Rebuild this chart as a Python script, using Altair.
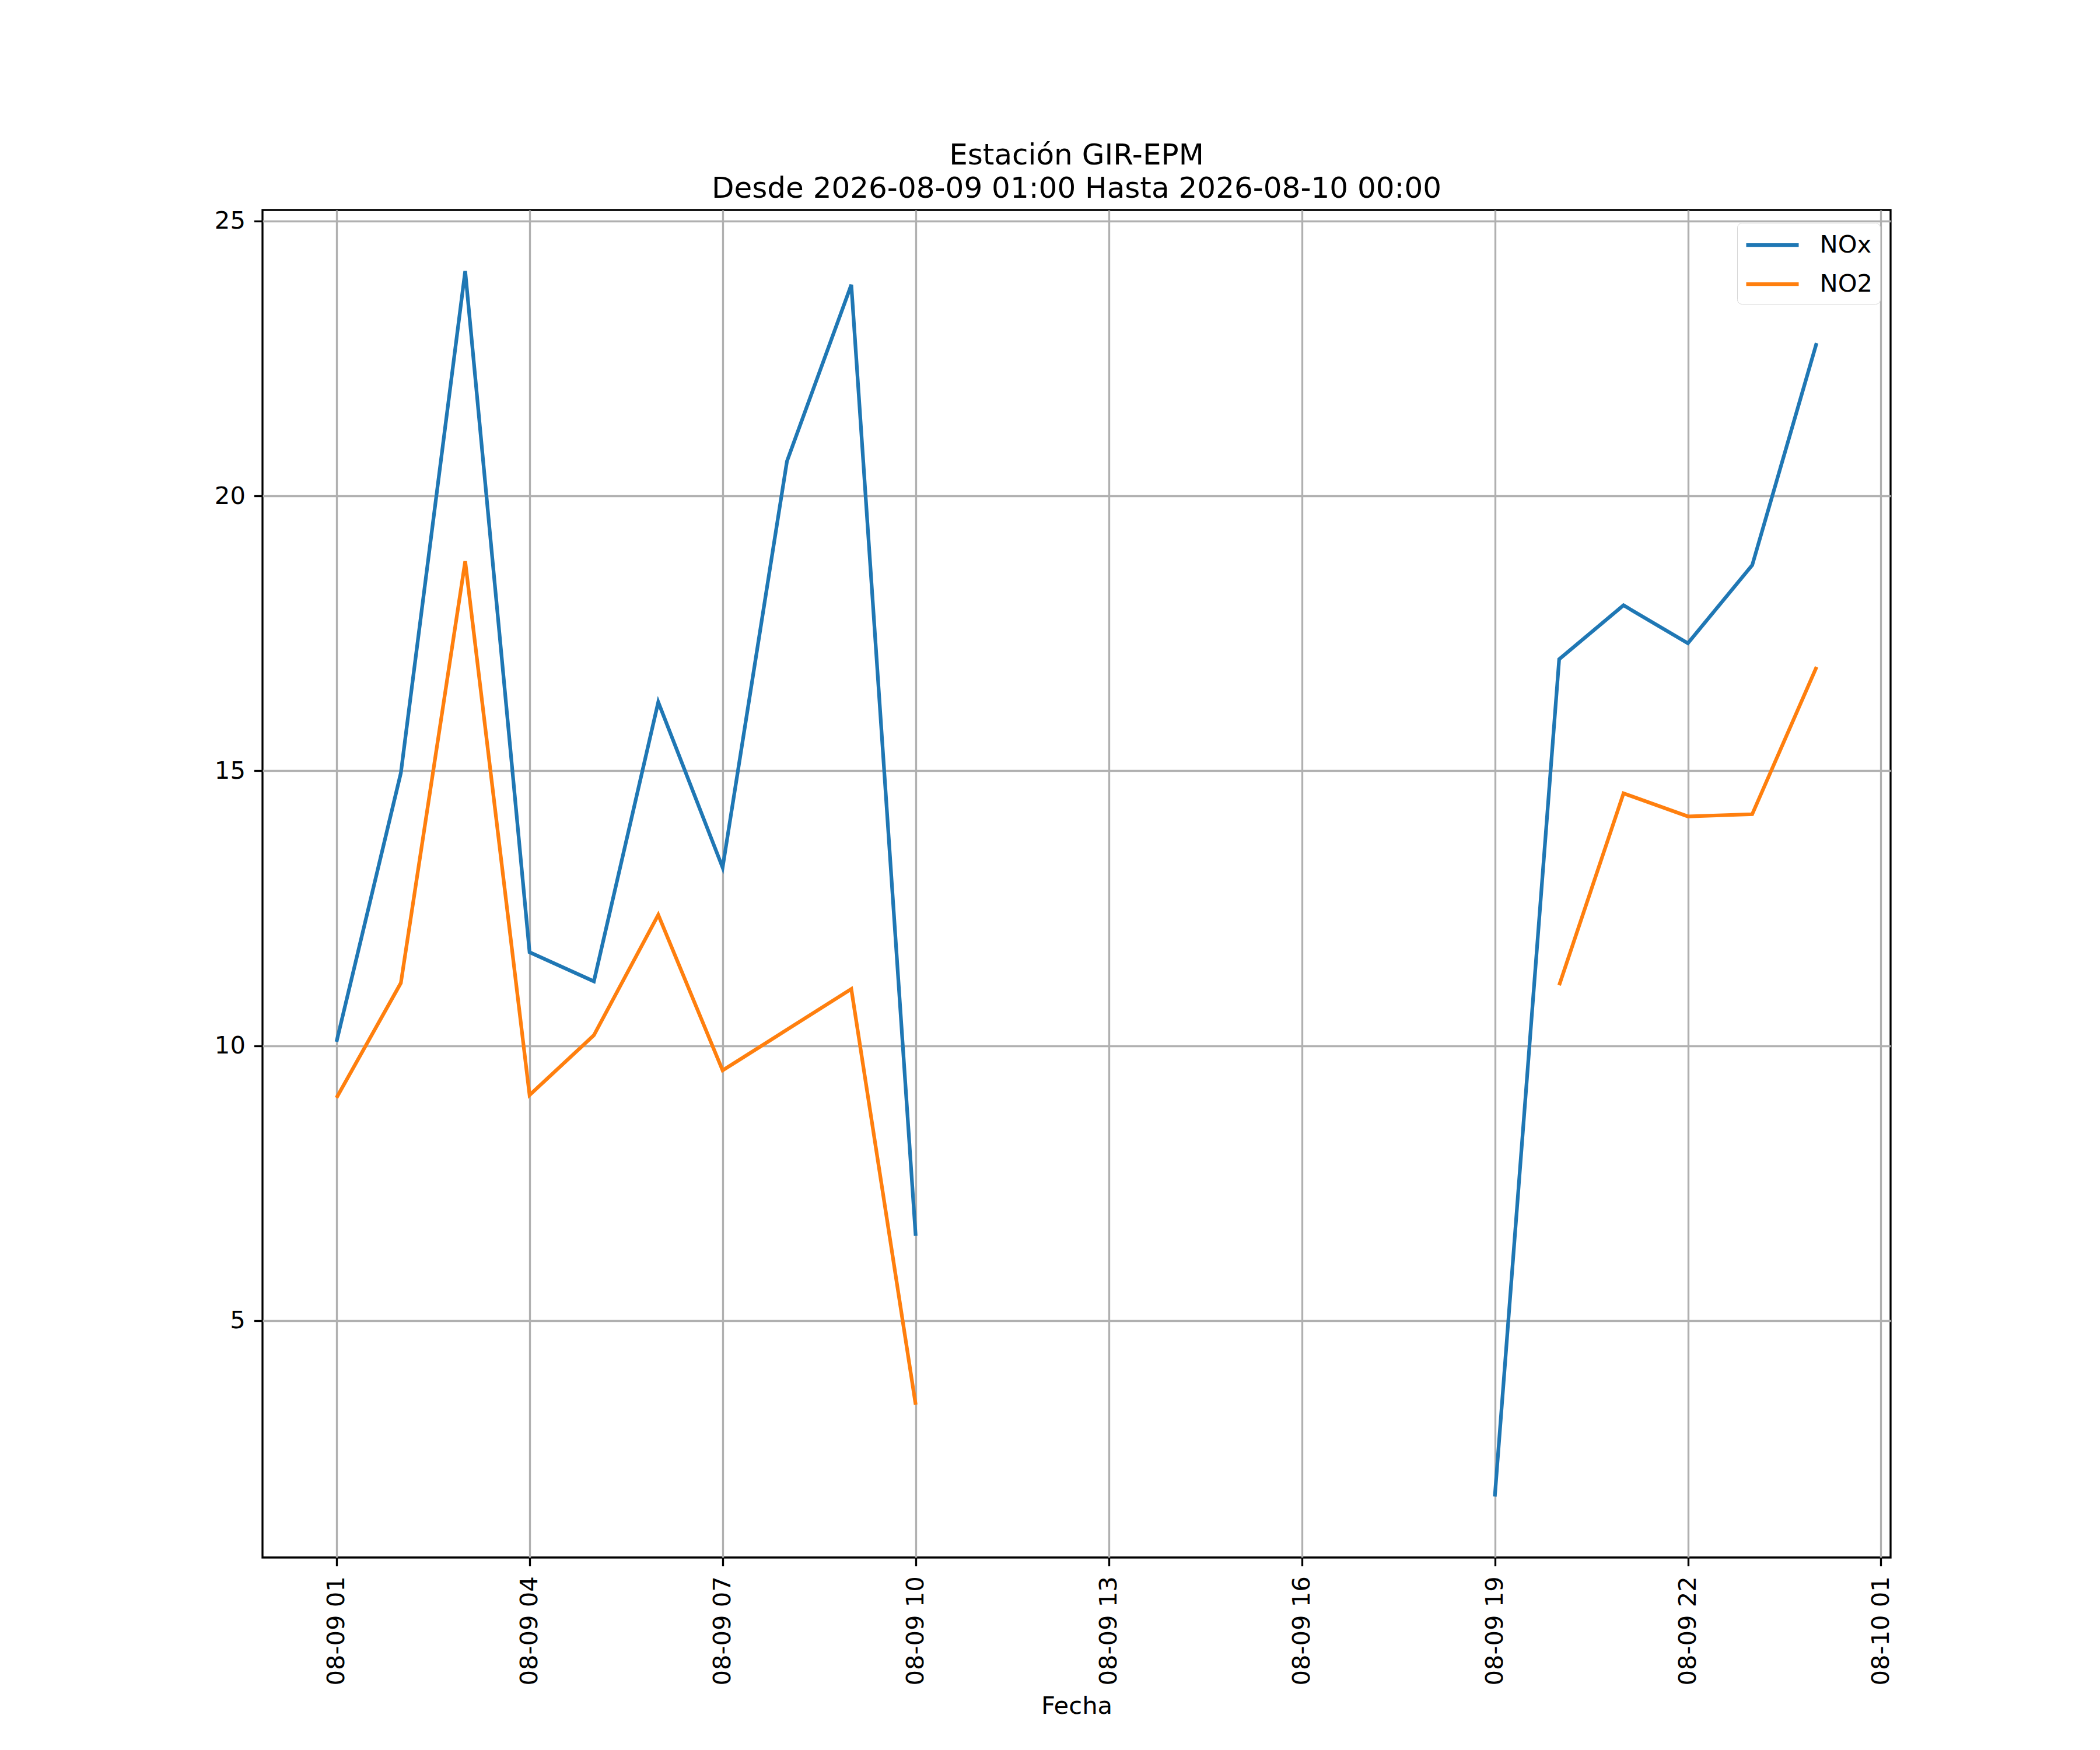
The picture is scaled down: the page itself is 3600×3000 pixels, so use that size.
import altair as alt
import pandas as pd

hours = list(range(1, 25))
nox = [10.07, 14.96, 24.09, 11.70, 11.17, 16.25, 13.24, 20.63, 23.84, 6.54,
       None, None, None, None, None, None, None, None,
       1.80, 17.03, 18.01, 17.32, 18.74, 22.78]
no2 = [9.05, 11.14, 18.81, 9.10, 10.19, 12.38, 9.55, 10.29, 11.03, 3.47,
       None, None, None, None, None, None, None, None,
       None, 11.10, 14.59, 14.17, 14.21, 16.89]
series_names = ["NOx", "NO2"]
series_colors = ["#1f77b4", "#ff7f0e"]
y_ticks = [5, 10, 15, 20, 25]
x_tick_hours = [1, 4, 7, 10, 13, 16, 19, 22, 25]

base = pd.Timestamp("2026-08-09 00:00")
times = [base + pd.Timedelta(hours=h) for h in hours]
rows = []
for name, vals in zip(series_names, [nox, no2]):
    for t, v in zip(times, vals):
        rows.append({"Fecha": t.strftime("%Y-%m-%dT%H:%M:%S"), "value": v, "serie": name})
df = pd.DataFrame(rows)


def dt(ts):
    return alt.DateTime(year=ts.year, month=ts.month, date=ts.day,
                        hours=ts.hour, minutes=ts.minute)


x_vals = [dt(base + pd.Timedelta(hours=h)) for h in x_tick_hours]
x_dom = [dt(base + pd.Timedelta(hours=1) - pd.Timedelta(minutes=69)),
         dt(base + pd.Timedelta(hours=24) + pd.Timedelta(minutes=69))]

FS = 41.7

chart = alt.Chart(df).mark_line(strokeWidth=6.25, clip=True).encode(
    x=alt.X("Fecha:T",
            scale=alt.Scale(domain=x_dom),
            axis=alt.Axis(values=x_vals, format="%m-%d %H", labelAngle=270,
                          labelLimit=0, title="Fecha", labelPadding=17, titlePadding=34)),
    y=alt.Y("value:Q",
            scale=alt.Scale(domain=[0.69, 25.2], nice=False, zero=False),
            axis=alt.Axis(values=y_ticks, title=None, labelPadding=15)),
    color=alt.Color("serie:N",
                    scale=alt.Scale(domain=series_names, range=series_colors),
                    legend=alt.Legend(title=None, orient="none", legendX=2528, legendY=22,
                                      symbolType="M-2,0L2,0", symbolSize=2025,
                                      symbolOffset=22.5,
                                      symbolStrokeWidth=6.25, labelFontSize=FS,
                                      labelOffset=55, padding=12, rowPadding=19,
                                      fillColor="white", strokeColor="#d6d6d6",
                                      cornerRadius=8, labelFont="DejaVu Sans",
                                      labelColor="black")),
    detail="serie:N",
).properties(
    width=2791,
    height=2310,
    title=alt.TitleParams(text=["Estación GIR-EPM", "Desde 2026-08-09 01:00 Hasta 2026-08-10 00:00"],
                          fontSize=50, font="DejaVu Sans", fontWeight="normal",
                          color="black", lineHeight=57, anchor="middle", offset=10),
    padding={"left": 442, "top": 352, "right": 300, "bottom": 300},
    autosize=alt.AutoSizeParams(type="none"),
).configure_view(
    stroke="black", strokeWidth=3.33
).configure_axis(
    domain=False, grid=True, gridColor="#b0b0b0", gridWidth=3.33,
    tickColor="black", tickWidth=3.33, tickSize=14.6,
    labelFontSize=FS, labelFont="DejaVu Sans", labelColor="black",
    titleFontSize=FS, titleFont="DejaVu Sans", titleColor="black", titleFontWeight="normal",
)

chart.save("out.html", embed_options={"renderer": "svg", "actions": False})
